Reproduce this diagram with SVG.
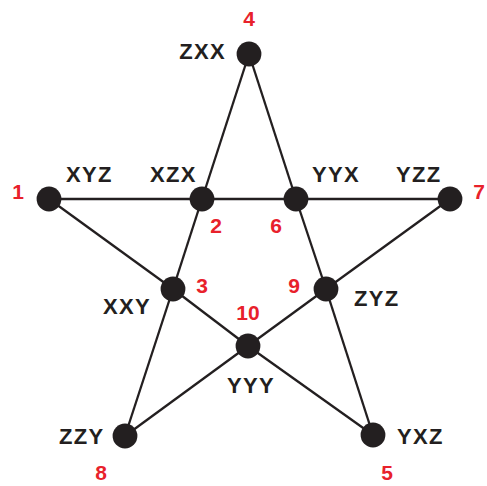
<svg xmlns="http://www.w3.org/2000/svg" width="487" height="486" viewBox="0 0 487 486">
<style>
.e{stroke:#231f20;stroke-width:2.3;fill:none}
.n{fill:#231f20}
.l{font-family:"Liberation Sans",Arial,sans-serif;font-weight:bold;font-size:22px;fill:#231f20;letter-spacing:1.3px}
.k{font-family:"Liberation Sans",Arial,sans-serif;font-weight:bold;font-size:21px;fill:#e8212b;text-anchor:middle}
</style>
<rect width="487" height="486" fill="#fff"/>
<g id="connectors">
<line class="e" x1="49" y1="199" x2="202" y2="199"/>
<line class="e" x1="202" y1="199" x2="296" y2="199"/>
<line class="e" x1="296" y1="199" x2="450" y2="199"/>
<line class="e" x1="249" y1="54" x2="202" y2="199"/>
<line class="e" x1="202" y1="199" x2="173" y2="289"/>
<line class="e" x1="173" y1="289" x2="125" y2="436"/>
<line class="e" x1="249" y1="54" x2="296" y2="199"/>
<line class="e" x1="296" y1="199" x2="326" y2="289"/>
<line class="e" x1="326" y1="289" x2="373" y2="435"/>
<line class="e" x1="49" y1="199" x2="173" y2="289"/>
<line class="e" x1="173" y1="289" x2="248" y2="346"/>
<line class="e" x1="248" y1="346" x2="373" y2="435"/>
<line class="e" x1="450" y1="199" x2="326" y2="289"/>
<line class="e" x1="326" y1="289" x2="248" y2="346"/>
<line class="e" x1="248" y1="346" x2="125" y2="436"/>
</g>
<g id="n4"><circle class="n" cx="249" cy="54" r="12.4"/><text class="l" x="226" y="59" text-anchor="end">ZXX</text><text class="k" x="249" y="26">4</text></g>
<g id="n1"><circle class="n" cx="49" cy="199" r="12.4"/><text class="l" x="66" y="182">XYZ</text><text class="k" x="18" y="199">1</text></g>
<g id="n2"><circle class="n" cx="202" cy="199" r="12.4"/><text class="l" x="150" y="182">XZX</text><text class="k" x="216" y="233">2</text></g>
<g id="n6"><circle class="n" cx="296" cy="199" r="12.4"/><text class="l" x="312" y="182">YYX</text><text class="k" x="276" y="233">6</text></g>
<g id="n7"><circle class="n" cx="450" cy="199" r="12.4"/><text class="l" x="396" y="182">YZZ</text><text class="k" x="479" y="199">7</text></g>
<g id="n3"><circle class="n" cx="173" cy="289" r="12.4"/><text class="l" x="103" y="314">XXY</text><text class="k" x="202" y="293">3</text></g>
<g id="n9"><circle class="n" cx="326" cy="289" r="12.4"/><text class="l" x="354" y="306">ZYZ</text><text class="k" x="294" y="293">9</text></g>
<g id="n10"><circle class="n" cx="248" cy="346" r="12.4"/><text class="l" x="227" y="393">YYY</text><text class="k" x="248" y="320">10</text></g>
<g id="n8"><circle class="n" cx="125" cy="436" r="12.4"/><text class="l" x="59" y="444">ZZY</text><text class="k" x="101" y="480">8</text></g>
<g id="n5"><circle class="n" cx="373" cy="435" r="12.4"/><text class="l" x="397" y="444">YXZ</text><text class="k" x="387" y="480">5</text></g>
</svg>
